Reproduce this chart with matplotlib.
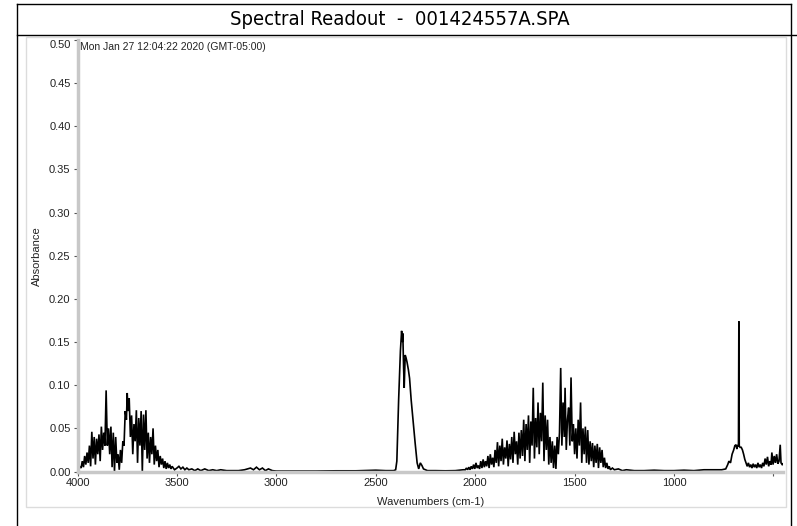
"""
Spectral readout (FTIR absorbance spectrum)
"""

import numpy as np
import matplotlib
matplotlib.use("Agg")
import matplotlib.pyplot as plt
from matplotlib.lines import Line2D
from matplotlib.patches import Rectangle
from matplotlib import font_manager

plt.rcParams["font.family"] = ["Liberation Sans", "DejaVu Sans"]

TITLE = "Spectral Readout  -  001424557A.SPA"
TIMESTAMP = "Mon Jan 27 12:04:22 2020 (GMT-05:00)"
X_LABEL = "Wavenumbers (cm-1)"
Y_LABEL = "Absorbance"

X_TICKS = [4000, 3500, 3000, 2500, 2000, 1500, 1000, 500]
X_TICK_LABELS = ["4000", "3500", "3000", "2500", "2000", "1500", "1000", ""]
Y_TICKS = [0.00, 0.05, 0.10, 0.15, 0.20, 0.25, 0.30, 0.35, 0.40, 0.45, 0.50]

# (wavenumber, absorbance), segment by segment
H2O_STRETCH = [
    (4000, 0.003), (3994, 0.002), (3988, 0.006), (3982, 0.004), (3976, 0.012),
    (3970, 0.005), (3964, 0.018), (3958, 0.008), (3952, 0.022), (3946, 0.010),
    (3940, 0.030), (3934, 0.006), (3928, 0.046), (3922, 0.015), (3916, 0.040),
    (3910, 0.008), (3904, 0.038), (3898, 0.020), (3892, 0.043), (3886, 0.012),
    (3880, 0.052), (3874, 0.025), (3868, 0.045), (3862, 0.030), (3856, 0.094),
    (3850, 0.030), (3844, 0.050), (3838, 0.020), (3832, 0.052), (3826, 0.005),
    (3820, 0.045), (3814, 0.000), (3808, 0.040), (3802, 0.010), (3796, 0.020),
    (3790, 0.002), (3784, 0.025), (3778, 0.010), (3772, 0.035), (3766, 0.030),
    (3760, 0.070), (3754, 0.060), (3750, 0.091), (3746, 0.070), (3740, 0.085),
    (3734, 0.040), (3728, 0.065), (3722, 0.020), (3716, 0.055), (3710, 0.035),
    (3704, 0.071), (3698, 0.010), (3692, 0.062), (3686, 0.030), (3680, 0.070),
    (3674, 0.000), (3668, 0.066), (3662, 0.025), (3656, 0.071), (3650, 0.015),
    (3644, 0.045), (3638, 0.010), (3632, 0.040), (3626, 0.020), (3620, 0.050),
    (3614, 0.008), (3608, 0.030), (3602, 0.012), (3596, 0.025), (3590, 0.005),
    (3584, 0.018), (3578, 0.008), (3572, 0.015), (3566, 0.004), (3560, 0.012),
    (3554, 0.003), (3548, 0.010), (3542, 0.004), (3536, 0.008), (3530, 0.003),
    (3524, 0.006), (3512, 0.002), (3500, 0.004),
]

BASELINE_HIGH = [
    (3490, 0.006), (3480, 0.003), (3470, 0.005), (3460, 0.002), (3450, 0.004),
    (3440, 0.002), (3425, 0.003), (3410, 0.001), (3395, 0.003), (3380, 0.001),
    (3360, 0.003), (3340, 0.001), (3320, 0.002), (3300, 0.001), (3280, 0.002),
    (3250, 0.001), (3220, 0.001), (3190, 0.001), (3160, 0.002), (3130, 0.004),
    (3115, 0.002), (3100, 0.005), (3085, 0.002), (3070, 0.004), (3055, 0.001),
    (3040, 0.003), (3020, 0.001), (3000, 0.0005), (2900, 0.0005),
    (2800, 0.0005), (2700, 0.0008), (2600, 0.0008), (2500, 0.0015),
    (2450, 0.001), (2410, 0.001),
]

CO2_STRETCH = [
    (2400, 0.002), (2394, 0.012), (2385, 0.083), (2376, 0.140), (2370, 0.163),
    (2366, 0.150), (2364, 0.160), (2360, 0.120), (2357, 0.097), (2352, 0.135),
    (2348, 0.132), (2343, 0.127), (2336, 0.118), (2330, 0.108), (2322, 0.083),
    (2313, 0.060), (2302, 0.033), (2292, 0.010), (2284, 0.003), (2276, 0.010),
    (2268, 0.007), (2260, 0.003), (2240, 0.001), (2200, 0.001), (2150, 0.0008),
    (2100, 0.001), (2060, 0.002),
]

H2O_BEND = [
    (2050, 0.002), (2044, 0.004), (2038, 0.002), (2032, 0.005), (2026, 0.002),
    (2020, 0.006), (2014, 0.003), (2008, 0.008), (2002, 0.003), (1996, 0.010),
    (1990, 0.004), (1984, 0.007), (1978, 0.003), (1972, 0.012), (1966, 0.004),
    (1960, 0.014), (1954, 0.005), (1948, 0.012), (1942, 0.006), (1936, 0.018),
    (1930, 0.004), (1924, 0.020), (1918, 0.008), (1912, 0.016), (1906, 0.005),
    (1900, 0.025), (1894, 0.010), (1888, 0.034), (1882, 0.006), (1876, 0.030),
    (1870, 0.012), (1864, 0.038), (1858, 0.008), (1852, 0.028), (1846, 0.015),
    (1840, 0.036), (1834, 0.006), (1828, 0.032), (1822, 0.014), (1816, 0.040),
    (1810, 0.010), (1804, 0.046), (1798, 0.020), (1792, 0.035), (1786, 0.008),
    (1780, 0.045), (1774, 0.015), (1768, 0.048), (1762, 0.018), (1756, 0.060),
    (1750, 0.012), (1744, 0.055), (1738, 0.025), (1732, 0.065), (1726, 0.010),
    (1720, 0.058), (1714, 0.030), (1708, 0.097), (1702, 0.015), (1696, 0.062),
    (1690, 0.028), (1684, 0.080), (1678, 0.020), (1672, 0.068), (1666, 0.035),
    (1660, 0.103), (1654, 0.012), (1648, 0.065), (1642, 0.025), (1636, 0.060),
    (1630, 0.008), (1624, 0.040), (1618, 0.010), (1612, 0.035), (1606, 0.004),
    (1600, 0.030), (1594, 0.003), (1588, 0.040), (1582, 0.020), (1576, 0.045),
    (1570, 0.120), (1564, 0.030), (1558, 0.080), (1552, 0.040), (1548, 0.097),
    (1542, 0.025), (1536, 0.060), (1530, 0.074), (1524, 0.030), (1518, 0.109),
    (1512, 0.035), (1506, 0.055), (1500, 0.020), (1494, 0.050), (1488, 0.015),
    (1482, 0.060), (1476, 0.030), (1470, 0.080), (1464, 0.010), (1458, 0.050),
    (1452, 0.020), (1446, 0.052), (1440, 0.010), (1434, 0.048), (1428, 0.008),
    (1422, 0.035), (1416, 0.012), (1410, 0.033), (1404, 0.005), (1398, 0.030),
    (1392, 0.010), (1386, 0.032), (1380, 0.004), (1374, 0.028), (1368, 0.010),
    (1362, 0.025), (1356, 0.005), (1350, 0.016), (1344, 0.004), (1338, 0.010),
    (1332, 0.003), (1326, 0.006), (1320, 0.002), (1310, 0.004), (1300, 0.002),
]

BASELINE_LOW = [
    (1280, 0.003), (1260, 0.001), (1240, 0.002), (1200, 0.001), (1150, 0.001),
    (1100, 0.0015), (1050, 0.001), (1000, 0.001), (950, 0.0015), (900, 0.001),
    (850, 0.002), (800, 0.002), (760, 0.002),
]

CO2_BEND = [
    (740, 0.003), (730, 0.008), (724, 0.012), (716, 0.010), (708, 0.020),
    (700, 0.025), (694, 0.030), (688, 0.031), (684, 0.026), (680, 0.030),
    (676, 0.030), (674, 0.174), (672, 0.030), (668, 0.028), (662, 0.028),
    (656, 0.025), (650, 0.020), (644, 0.014), (638, 0.010), (632, 0.006),
    (626, 0.010), (620, 0.005), (614, 0.008), (608, 0.004), (602, 0.009),
    (596, 0.005), (590, 0.008), (584, 0.004), (578, 0.010), (572, 0.005),
    (566, 0.008), (560, 0.004), (554, 0.010), (548, 0.006), (542, 0.015),
    (536, 0.008), (530, 0.017), (524, 0.006), (518, 0.012), (512, 0.008),
    (508, 0.022), (502, 0.008), (496, 0.018), (490, 0.010), (484, 0.020),
    (478, 0.009), (472, 0.012), (466, 0.031), (462, 0.010), (456, 0.008),
    (452, 0.009),
]


def build_spectrum():
    """拼接各段数据"""
    segments = [H2O_STRETCH, BASELINE_HIGH, CO2_STRETCH, H2O_BEND, BASELINE_LOW, CO2_BEND]
    pts = np.array([p for seg in segments for p in seg])
    return pts[:, 0], pts[:, 1]


def title_font():
    """找一个窄体字体给标题用"""
    for f in font_manager.fontManager.ttflist:
        if (f.name == "DejaVu Sans" and f.stretch == "condensed"
                and f.style == "normal" and f.weight in ("normal", 400)):
            return font_manager.FontProperties(fname=f.fname, size=14.5)
    return font_manager.FontProperties(family="Liberation Sans", size=14)


def draw_frame(fig):
    """外框、标题栏和内面板"""
    W, H = 797.0, 526.0

    def fx(px):
        return px / W

    def fy(py):
        return 1 - py / H

    # 内面板 (浅灰边框)
    fig.patches.append(
        Rectangle((fx(26), fy(507)), fx(786) - fx(26), fy(37) - fy(507),
                  transform=fig.transFigure, fill=False, edgecolor="#dcdcdc", lw=1.0)
    )
    # 外框线
    for xs, ys in [
        ([17, 17], [4, 526]),
        ([790.5, 790.5], [4, 526]),
        ([17, 790.5], [4, 4]),
        ([17, 797], [35, 35]),
    ]:
        fig.lines.append(
            Line2D([fx(x) for x in xs], [fy(y) for y in ys],
                   transform=fig.transFigure, color="black", lw=1.0)
        )

    fig.text(fx(400), fy(19.5), TITLE, ha="center", va="center",
             fontproperties=title_font())


def main():
    wn, ab = build_spectrum()

    fig = plt.figure(figsize=(7.97, 5.26), dpi=100)
    ax = fig.add_axes([77.5 / 797, 54.5 / 526, (783 - 77.5) / 797, (486 - 54.5) / 526])

    ax.plot(wn, ab, color="black", lw=1.2, solid_joinstyle="miter")

    ax.set_xlim(4000, 452)
    ax.set_ylim(0, 0.50)
    ax.set_xticks(X_TICKS)
    ax.set_xticklabels(X_TICK_LABELS)
    ax.set_yticks(Y_TICKS)
    ax.set_yticklabels([f"{v:.2f}" for v in Y_TICKS])
    ax.yaxis.get_ticklabels()[-1].set_va("top")

    for side in ["top", "right"]:
        ax.spines[side].set_visible(False)
    for side in ["left", "bottom"]:
        ax.spines[side].set_color("#c8c8c8")
        ax.spines[side].set_linewidth(2.5)

    ax.tick_params(axis="both", length=3, width=0.8, color="#555555",
                   labelsize=8, labelcolor="#222222", pad=2)

    ax.set_xlabel(X_LABEL, fontsize=8, color="#222222", labelpad=6)
    ax.set_ylabel(Y_LABEL, fontsize=8, color="#222222", labelpad=5)

    ax.text(0.004, 0.995, TIMESTAMP, transform=ax.transAxes, ha="left", va="top",
            fontsize=7.5, color="#222222")

    draw_frame(fig)

    fig.savefig("out.png", dpi=100)
    plt.close(fig)


if __name__ == "__main__":
    main()
